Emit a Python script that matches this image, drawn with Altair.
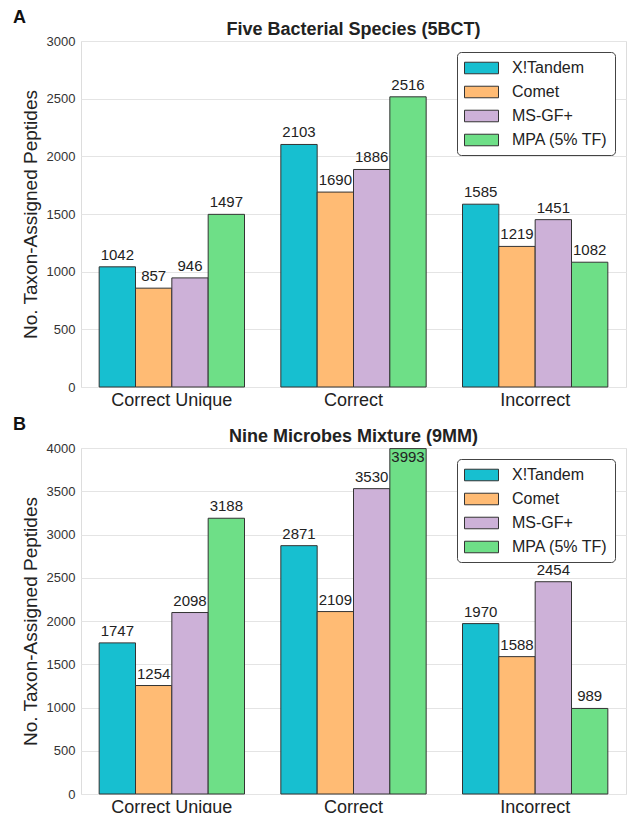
import altair as alt
import pandas as pd

categories = ["Correct Unique", "Correct", "Incorrect"]
engines = ["X!Tandem", "Comet", "MS-GF+", "MPA (5% TF)"]
colors = ["#17BFD0", "#FFBB74", "#CDB1D8", "#6EDF87"]

# values per category, in engine order
bct_correct_unique = [1042, 857, 946, 1497]
bct_correct = [2103, 1690, 1886, 2516]
bct_incorrect = [1585, 1219, 1451, 1082]

mm_correct_unique = [1747, 1254, 2098, 3188]
mm_correct = [2871, 2109, 3530, 3993]
mm_incorrect = [1970, 1588, 2454, 989]

FONT = "Liberation Sans"
# legend swatch: 4 units wide (34 px), 1.36 units tall (~12 px) at size 289
RECT = "M-1,-0.68L3,-0.68L3,0.68L-1,0.68Z"
W = 545
H = 346


def build_df(series):
    rows = []
    for cat, vals in zip(categories, series):
        for eng, v in zip(engines, vals):
            rows.append({"category": cat, "engine": eng, "value": v})
    return pd.DataFrame(rows)


def panel(series, title, letter, ymax):
    df = build_df(series)
    base = alt.Chart(df)
    x = alt.X(
        "category:N",
        sort=categories,
        scale=alt.Scale(paddingInner=0.2, paddingOuter=0.1),
        axis=alt.Axis(title=None, labelAngle=0, labelFontSize=18, labelPadding=4,
                      ticks=False, domain=False, labelColor="#222", labelFont=FONT),
    )
    xo = alt.XOffset("engine:N", sort=engines,
                     scale=alt.Scale(paddingInner=0, paddingOuter=0))
    y = alt.Y(
        "value:Q",
        scale=alt.Scale(domain=[0, ymax], nice=False),
        axis=alt.Axis(values=list(range(0, ymax + 1, 500)), format="d",
                      title="No. Taxon-Assigned Peptides", titleFontSize=19,
                      titleFontWeight="normal", titleColor="#222", titlePadding=6,
                      labelFontSize=13, labelColor="#333", labelPadding=6,
                      grid=True, gridColor="#e4e4e4", gridWidth=1,
                      ticks=False, domain=False),
    )
    bars = base.mark_bar(stroke="#333", strokeWidth=1).encode(
        x=x, xOffset=xo, y=y,
        color=alt.Color(
            "engine:N", sort=engines,
            scale=alt.Scale(domain=engines, range=colors),
            legend=alt.Legend(title=None, orient="top-right", offset=11,
                              strokeColor="#444", fillColor="white", cornerRadius=4,
                              padding=7, labelFontSize=16, labelColor="#222",
                              labelFont=FONT, symbolType=RECT, symbolSize=289,
                              symbolStrokeColor="#333", symbolStrokeWidth=1,
                              symbolOpacity=1, rowPadding=7, labelOffset=30),
        ),
    )
    labels = base.transform_filter(f"datum.value < {ymax * 0.98}").mark_text(
        baseline="bottom", dy=-4, fontSize=15, color="#222", font=FONT
    ).encode(x=x, xOffset=xo, y=y, text="value:Q")
    labels_in = base.transform_filter(f"datum.value >= {ymax * 0.98}").mark_text(
        baseline="top", dy=1, fontSize=15, color="#222", font=FONT
    ).encode(x=x, xOffset=xo, y=y, text="value:Q")
    tag = alt.Chart(pd.DataFrame({"t": [letter]})).mark_text(
        align="left", baseline="middle", fontSize=18, fontWeight="bold",
        color="#111", font=FONT
    ).encode(x=alt.value(-68), y=alt.value(-23), text="t:N")
    head = alt.Chart(pd.DataFrame({"t": [title]})).mark_text(
        align="center", baseline="middle", fontSize=18, fontWeight="bold",
        color="#222", font=FONT
    ).encode(x=alt.value(W / 2), y=alt.value(-11), text="t:N")
    return alt.layer(bars, labels, labels_in, tag, head).properties(width=W, height=H)


top = panel([bct_correct_unique, bct_correct, bct_incorrect],
            "Five Bacterial Species (5BCT)", "A", 3000)
bottom = panel([mm_correct_unique, mm_correct, mm_incorrect],
               "Nine Microbes Mixture (9MM)", "B", 4000)

chart = alt.vconcat(top, bottom, spacing=5).resolve_scale(
    color="independent"
).resolve_legend(color="independent").properties(
    padding={"left": 4, "top": 0, "right": 0, "bottom": 0}
).configure_view(stroke="#333", strokeWidth=1.5).configure(font=FONT)

chart.save("out.html", embed_options={"renderer": "svg", "actions": False})
